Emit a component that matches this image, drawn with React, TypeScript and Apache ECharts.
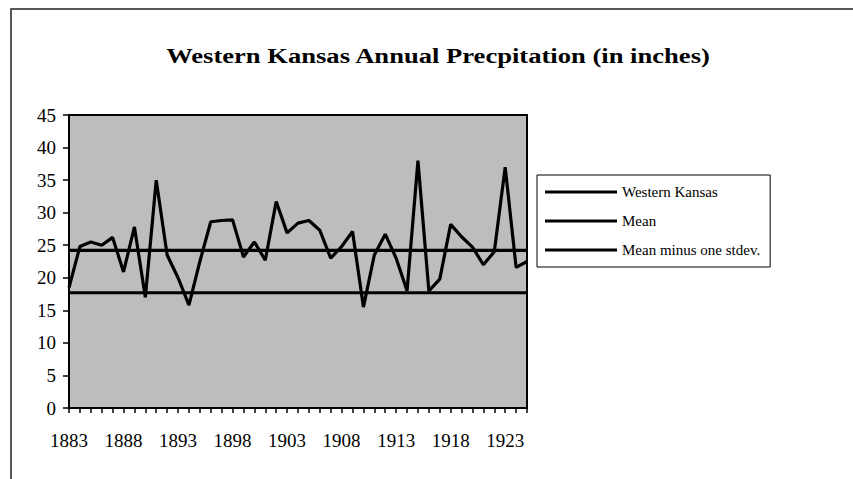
import React, { useEffect, useRef } from "react";
import * as echarts from "echarts";

const years: string[] = [
  "1883", "1884", "1885", "1886", "1887", "1888", "1889", "1890", "1891", "1892",
  "1893", "1894", "1895", "1896", "1897", "1898", "1899", "1900", "1901", "1902",
  "1903", "1904", "1905", "1906", "1907", "1908", "1909", "1910", "1911", "1912",
  "1913", "1914", "1915", "1916", "1917", "1918", "1919", "1920", "1921", "1922",
  "1923", "1924", "1925",
];

const westernKansas: number[] = [
  18.5, 24.8, 25.5, 25.0, 26.2, 20.9, 27.8, 17.0, 35.0, 23.5,
  20.0, 15.8, 22.5, 28.6, 28.8, 28.9, 23.2, 25.5, 22.7, 31.7,
  26.9, 28.4, 28.8, 27.3, 23.0, 24.8, 27.1, 15.5, 23.5, 26.7,
  23.0, 18.0, 38.0, 18.0, 19.8, 28.2, 26.3, 24.7, 22.0, 24.0,
  37.0, 21.6, 22.5,
];

const MEAN = 24.2;
const MEAN_MINUS_STDEV = 17.7;

const meanValues: number[] = years.map(() => MEAN);
const meanMinusStdevValues: number[] = years.map(() => MEAN_MINUS_STDEV);

const seriesNames: string[] = ["Western Kansas", "Mean", "Mean minus one stdev."];
const titleText = "Western Kansas Annual Precpitation (in inches)";

const SERIF = "'Liberation Serif', 'Times New Roman', serif";

export default function App() {
  const ref = useRef<HTMLDivElement>(null);

  useEffect(() => {
    document.body.style.margin = "0";
    if (!ref.current) return;
    const chart = echarts.init(ref.current, undefined, { renderer: "svg" });
    const lineStyle = { color: "#000", width: 3.2 };
    chart.setOption({
      animation: false,
      backgroundColor: "#fff",
      textStyle: { fontFamily: SERIF, color: "#000" },
      graphic: [
        {
          type: "rect",
          shape: { x: 11, y: 9, width: 900, height: 600 },
          style: { fill: "none", stroke: "#222", lineWidth: 1.5 },
          silent: true,
        },
        {
          type: "text",
          x: 438,
          y: 56,
          scaleX: 1.33,
          style: {
            text: titleText,
            font: `bold 20px ${SERIF}`,
            fill: "#000",
            textAlign: "center",
            textVerticalAlign: "middle",
          },
        },
      ],
      grid: {
        left: 69,
        top: 115,
        width: 458,
        height: 293,
        show: true,
        backgroundColor: "#bdbdbd",
        borderColor: "#000",
        borderWidth: 2,
        containLabel: false,
      },
      legend: {
        orient: "vertical",
        left: 537,
        top: 175,
        padding: [8, 10, 8, 8],
        itemGap: 11,
        itemWidth: 72,
        itemHeight: 3,
        icon: "rect",
        borderColor: "#000",
        borderWidth: 1,
        backgroundColor: "#fff",
        textStyle: { fontFamily: SERIF, fontSize: 15, color: "#000", lineHeight: 18 },
        data: seriesNames,
      },
      xAxis: {
        type: "category",
        data: years,
        boundaryGap: false,
        axisLine: { show: true, lineStyle: { color: "#000", width: 2 } },
        axisTick: { show: true, interval: 0, length: 5, lineStyle: { color: "#000", width: 1.5 } },
        axisLabel: {
          interval: 4,
          margin: 23,
          fontFamily: SERIF,
          fontSize: 19,
          color: "#000",
        },
        splitLine: { show: false },
      },
      yAxis: {
        type: "value",
        min: 0,
        max: 45,
        interval: 5,
        axisLine: { show: true, lineStyle: { color: "#000", width: 2 } },
        axisTick: { show: true, length: 6, lineStyle: { color: "#000", width: 1.5 } },
        axisLabel: { margin: 13, fontFamily: SERIF, fontSize: 19, color: "#000" },
        splitLine: { show: false },
      },
      series: [
        {
          name: seriesNames[0],
          type: "line",
          data: westernKansas,
          symbol: "none",
          lineStyle,
          itemStyle: { color: "#000" },
        },
        {
          name: seriesNames[1],
          type: "line",
          data: meanValues,
          symbol: "none",
          lineStyle,
          itemStyle: { color: "#000" },
        },
        {
          name: seriesNames[2],
          type: "line",
          data: meanMinusStdevValues,
          symbol: "none",
          lineStyle,
          itemStyle: { color: "#000" },
        },
      ],
    });
    return () => chart.dispose();
  }, []);

  return <div ref={ref} style={{ width: 853, height: 479 }} />;
}
